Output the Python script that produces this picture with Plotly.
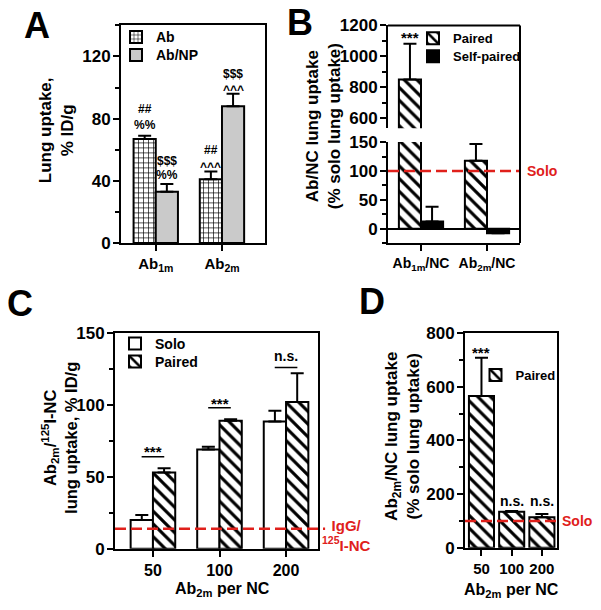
import plotly.graph_objects as go

FONT = "Liberation Sans"
W, H = 601, 610
SY, OY = 0.97, 8.6   # measured vertical mapping of the photographed page

# ---------------- data ----------------
# Panel A
a_cats = ["Ab<sub>1m</sub>", "Ab<sub>2m</sub>"]
a_ab = [67, 41]
a_ab_err = [2, 5]
a_abnp = [33, 88]
a_abnp_err = [5, 8]
a_marks_ab = [["##", "%%"], ["##", "^^^"]]
a_marks_ab_y = [[86, 76], [60, 49]]
a_marks_np = [["$$$", "%%"], ["$$$", "^^^"]]
a_marks_np_y = [[52.5, 44], [109, 98.5]]

# Panel B
b_cats = ["Ab<sub>1m</sub>/NC", "Ab<sub>2m</sub>/NC"]
b_paired = [850, 118]
b_paired_err = [232, 29]
b_self = [12.5, -8]
b_self_err = [25.5, 0]
b_solo = 100

# Panel C
c_cats = ["50", "100", "200"]
c_solo = [20, 69, 88.5]
c_solo_err = [3.5, 2, 7.5]
c_paired = [53, 89, 102]
c_paired_err = [3, 1, 20]
c_igg = 14
c_sig_line = [64, 98, 126]
c_sig_text = ["***", "***", "n.s."]
c_sig_text_y = [67.5, 101, 134]

# Panel D
d_cats = ["50", "100", "200"]
d_paired = [565, 134, 114]
d_paired_err = [143, 3, 12]
d_solo = 100
d_sig_text = ["***", "n.s.", "n.s."]
d_sig_text_y = [729, 175, 175]


def px(x):
    return x / W


def py(y):
    return 1 - ((y - OY) / SY) / H


def bf(size=17, color="black"):
    return dict(family=FONT, size=size, color=color, weight="bold")


RED = "#e0201b"
hatch = dict(shape="\\", fgcolor="black", bgcolor="white", size=9, solidity=0.35, fillmode="replace")
grid = dict(shape="+", fgcolor="black", bgcolor="white", size=5, solidity=0.25, fillmode="replace")
oline = dict(color="black", width=2)


def err(arr):
    return dict(type="data", array=arr, arrayminus=[0] * len(arr), symmetric=False,
                color="black", thickness=2, width=6.5)


fig = go.Figure()

# A
fig.add_trace(go.Bar(x=a_cats, y=a_ab, name="Ab", marker=dict(color="white", pattern=grid, line=oline),
                     error_y=err(a_ab_err), xaxis="x", yaxis="y", legend="legend"))
fig.add_trace(go.Bar(x=a_cats, y=a_abnp, name="Ab/NP", marker=dict(color="#cacaca", line=oline),
                     error_y=err(a_abnp_err), xaxis="x", yaxis="y", legend="legend2"))

# B lower and upper (broken axis)
for yax, show in (("y2", True), ("y3", False)):
    fig.add_trace(go.Bar(x=b_cats, y=b_paired, name="Paired",
                         marker=dict(color="white", pattern=hatch, line=oline),
                         error_y=err(b_paired_err), xaxis="x2", yaxis=yax,
                         legend="legend3", showlegend=show))
    fig.add_trace(go.Bar(x=b_cats, y=b_self, name="Self-paired",
                         marker=dict(color="black", line=oline),
                         error_y=err(b_self_err), xaxis="x2", yaxis=yax,
                         legend="legend4", showlegend=show))

# C
fig.add_trace(go.Bar(x=c_cats, y=c_solo, name="Solo", marker=dict(color="white", line=oline),
                     error_y=err(c_solo_err), xaxis="x3", yaxis="y4", legend="legend5"))
fig.add_trace(go.Bar(x=c_cats, y=c_paired, name="Paired",
                     marker=dict(color="white", pattern=hatch, line=oline),
                     error_y=err(c_paired_err), xaxis="x3", yaxis="y4", legend="legend6"))

# D
fig.add_trace(go.Bar(x=d_cats, y=d_paired, name="Paired", width=0.83, offset=-0.415,
                     marker=dict(color="white", pattern=hatch, line=oline),
                     error_y=err(d_paired_err), xaxis="x4", yaxis="y5", legend="legend7"))


def xax(domain, anchor, rng, size, mirror=True):
    return dict(domain=domain, anchor=anchor, range=rng, type="category", showline=True,
                linewidth=2, linecolor="black", mirror=mirror, ticks="outside", ticklen=6,
                tickwidth=2, tickcolor="black", showgrid=False, zeroline=False,
                tickfont=bf(size), fixedrange=True)


def yax(domain, anchor, rng, dtick, mdtick, size=17, mirror=True, zeroline=False):
    return dict(domain=domain, anchor=anchor, range=rng, dtick=dtick, tick0=0,
                minor=dict(dtick=mdtick, tick0=0, ticks="outside", ticklen=4, tickwidth=2,
                           tickcolor="black", showgrid=False),
                showline=True, linewidth=2, linecolor="black", mirror=mirror,
                ticks="outside", ticklen=6, tickwidth=2, tickcolor="black",
                ticklabelstandoff=-1,
                showgrid=False, zeroline=zeroline, zerolinecolor="black", zerolinewidth=2,
                tickfont=bf(size), fixedrange=True)


def leg(x, y, size):
    return dict(x=px(x), y=py(y), xanchor="left", yanchor="middle", font=bf(size),
                bgcolor="rgba(0,0,0,0)")


layout = dict(
    width=W, height=H, margin=dict(l=0, r=0, t=0, b=0),
    paper_bgcolor="white", plot_bgcolor="white",
    barmode="group", bargap=0.33, bargroupgap=0,
    font=bf(14),
    xaxis=xax([px(121), px(265)], "y", [-0.525, 1.65], 15),
    yaxis=yax([py(243), py(25)], "x", [0, 140], 40, 20),
    xaxis2=xax([px(388), px(520)], "y2", [-0.5, 1.5], 14, mirror=False),
    yaxis2=yax([py(243), py(141.7)], "x2", [-25, 150.5], 50, 25, mirror=False, zeroline=True),
    yaxis3=yax([py(128), py(25)], "x2", [535, 1200], 200, 100, mirror=False),
    xaxis3=xax([px(115), px(318)], "y4", [-0.57, 2.48], 16),
    yaxis4=yax([py(549), py(333)], "x3", [0, 150], 50, 25),
    xaxis4=xax([px(465), px(557)], "y5", [-0.545, 2.5], 15),
    yaxis5=yax([py(548), py(333)], "x4", [0, 800], 200, 100, size=17),
    legend=leg(116, 37, 14),
    legend2=leg(116, 55, 14),
    legend3=leg(413, 38, 13),
    legend4=leg(413, 56, 13),
    legend5=leg(115, 344, 14),
    legend6=leg(115, 362, 14),
    legend7=leg(475.5, 375, 13),
    showlegend=True,
)
fig.update_layout(**layout)

ann = []


def add_ann(**kw):
    kw.setdefault("showarrow", False)
    kw.setdefault("xanchor", "center")
    kw.setdefault("yanchor", "middle")
    ann.append(kw)


# panel letters
for letter, (lx, ly) in zip("ABCD", [(37, 25), (300, 22), (20, 303), (372, 301)]):
    add_ann(text=letter, x=px(lx), y=py(ly), xref="paper", yref="paper", font=bf(36))

# axis titles
titles = [
    ("Lung uptake,<br>% ID/g", 56, 130, -90, 17),
    ("Ab/NC lung uptake<br>(% solo lung uptake)", 323, 126, -90, 17),
    ("Ab<sub>2m</sub>/<sup>125</sup>I-NC<br>lung uptake, % ID/g", 60, 438, -90, 16.5),
    ("Ab<sub>2m</sub>/NC lung uptake<br>(% solo lung uptake)", 403, 437, -90, 17),
    ("Ab<sub>2m</sub> per NC", 222, 590, 0, 16),
    ("Ab<sub>2m</sub> per NC", 511, 591, 0, 16),
]
for t, tx, ty, ang, fs in titles:
    add_ann(text=t, x=px(tx), y=py(ty), xref="paper", yref="paper",
            font=bf(fs), textangle=ang)

# A significance marks
half = (1 - 0.33) / 4
for i in range(2):
    for txt, yy in zip(a_marks_ab[i], a_marks_ab_y[i]):
        add_ann(text=txt, x=i - half, y=yy, xref="x", yref="y", font=bf(12))
    for txt, yy in zip(a_marks_np[i], a_marks_np_y[i]):
        add_ann(text=txt, x=i + half, y=yy, xref="x", yref="y", font=bf(12))

# B marks
add_ann(text="***", x=0 - half, y=1123, xref="x2", yref="y3", font=bf(15))
add_ann(text="n.s.", x=1 - half, y=167, xref="x2", yref="y2", font=bf(14))
add_ann(text="Solo", x=px(542), y=b_solo, xref="paper", yref="y2", font=bf(14, RED))

# C marks
for i, (txt, yy) in enumerate(zip(c_sig_text, c_sig_text_y)):
    add_ann(text=txt, x=i, y=yy, xref="x3", yref="y4", font=bf(15 if txt == "***" else 14))
add_ann(text="IgG/<br><sup>125</sup>I-NC", x=px(346), y=py(536), xref="paper",
        yref="paper", font=bf(15, RED), align="center")

# D marks
for i, (txt, yy) in enumerate(zip(d_sig_text, d_sig_text_y)):
    add_ann(text=txt, x=i, y=yy, xref="x4", yref="y5", font=bf(15 if txt == "***" else 14))
add_ann(text="Solo", x=px(577), y=d_solo, xref="paper", yref="y5", font=bf(14, RED))

shapes = []
dash = "11px,5px"
shapes.append(dict(type="line", xref="x2 domain", yref="y2", x0=0, x1=1, y0=b_solo, y1=b_solo,
                   line=dict(color=RED, width=2.5, dash=dash)))
shapes.append(dict(type="line", xref="x3 domain", yref="y4", x0=0, x1=1.035, y0=c_igg, y1=c_igg,
                   line=dict(color=RED, width=2.5, dash=dash)))
shapes.append(dict(type="line", xref="x4 domain", yref="y5", x0=0, x1=1, y0=d_solo, y1=d_solo,
                   line=dict(color=RED, width=2.5, dash=dash)))
for i, yy in enumerate(c_sig_line):
    shapes.append(dict(type="line", xref="x3", yref="y4", x0=i - 0.17, x1=i + 0.17, y0=yy, y1=yy,
                       line=dict(color="black", width=1.5)))
# B frame (top and right), since the y-axis is broken
shapes.append(dict(type="line", xref="x2 domain", yref="paper", x0=0, x1=1, y0=py(25), y1=py(25),
                   line=dict(color="black", width=2)))
shapes.append(dict(type="line", xref="x2 domain", yref="paper", x0=1, x1=1, y0=py(243), y1=py(25),
                   line=dict(color="black", width=2)))

fig.update_layout(annotations=ann, shapes=shapes)

fig.write_html("out.html", config={"displayModeBar": False},
               post_script="document.body.style.margin='0';")
